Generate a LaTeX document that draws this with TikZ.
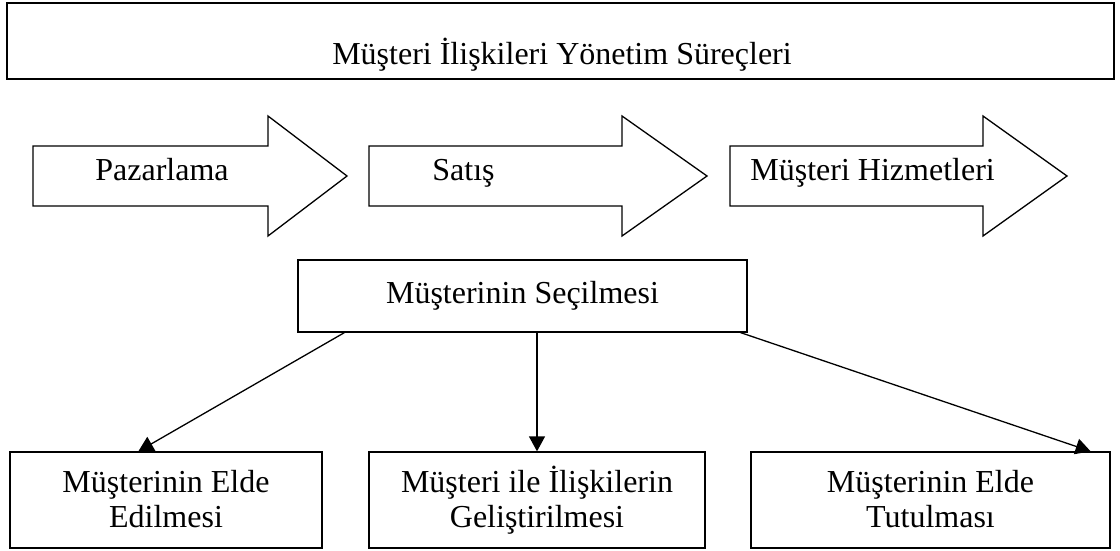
\documentclass[tikz,border=0pt]{standalone}
\usepackage{fontspec}
\setmainfont{Liberation Serif}
\usetikzlibrary{arrows.meta}
% equal line heights in the two-line boxes
\newcommand\lnfix{\vphantom{İş}}
\begin{document}
\begin{tikzpicture}[x=0.5pt,y=-0.5pt,
  every node/.style={font=\fontsize{16}{17.5}\selectfont, inner sep=0pt},
  frame/.style={draw, line width=0.65pt, fill=white},
  titleframe/.style={draw, line width=1.1pt},
  stagearrow/.style={draw, line width=0.65pt, fill=white, line join=miter},
  box/.style={frame, align=center},
  conn/.style={draw, line width=0.65pt, -{Triangle[length=7.5pt,width=8pt]}}]
\useasboundingbox (0,0) rectangle (1120,551);

% header
\node[titleframe, minimum width=553.5pt, minimum height=38pt] (title) at (560.5,41) {};
\node[anchor=base] (titletext) at (562,65) {Müşteri İlişkileri Yönetim Süreçleri};

% process stages as block arrows
\path[stagearrow] (33,146) -- (268,146) -- (268,116) -- (347,176) -- (268,236) -- (268,206) -- (33,206) -- cycle;
\path[stagearrow] (369,146) -- (622,146) -- (622,116) -- (707,176) -- (622,236) -- (622,206) -- (369,206) -- cycle;
\path[stagearrow] (730,146) -- (983,146) -- (983,116) -- (1067,176) -- (983,236) -- (983,206) -- (730,206) -- cycle;
\node[anchor=base west] (pazarlama) at (95,181) {Pazarlama};
\node[anchor=base west] (satis) at (432,181) {Satış};
\node[anchor=base west] (hizmet) at (750,181) {Müşteri Hizmetleri};

% selection and its three outcomes
\node[box, minimum width=224.5pt, minimum height=36pt] (sel) at (522.5,296) {Müşterinin Seçilmesi};
\node[box, minimum width=156pt, minimum height=48pt] (left) at (166,500) {\lnfix Müşterinin Elde\\\lnfix Edilmesi};
\node[box, minimum width=168pt, minimum height=48pt] (mid) at (537,500) {\lnfix Müşteri ile İlişkilerin\\\lnfix Geliştirilmesi};
\node[box, minimum width=179.5pt, minimum height=48pt] (right) at (930.5,500) {\lnfix Müşterinin Elde\\\lnfix Tutulması};

\coordinate (s1) at ([xshift=23.5pt]sel.south west);
\coordinate (t1) at ([xshift=64.5pt]left.north west);
\coordinate (s3) at ([xshift=-3.5pt]sel.south east);
\coordinate (t3) at ([xshift=-10pt]right.north east);

\draw[conn] (s1) -- (t1);
\draw[conn] (sel.south -| mid.north) -- (mid.north);
\draw[conn] (s3) -- (t3);
\end{tikzpicture}
\end{document}
